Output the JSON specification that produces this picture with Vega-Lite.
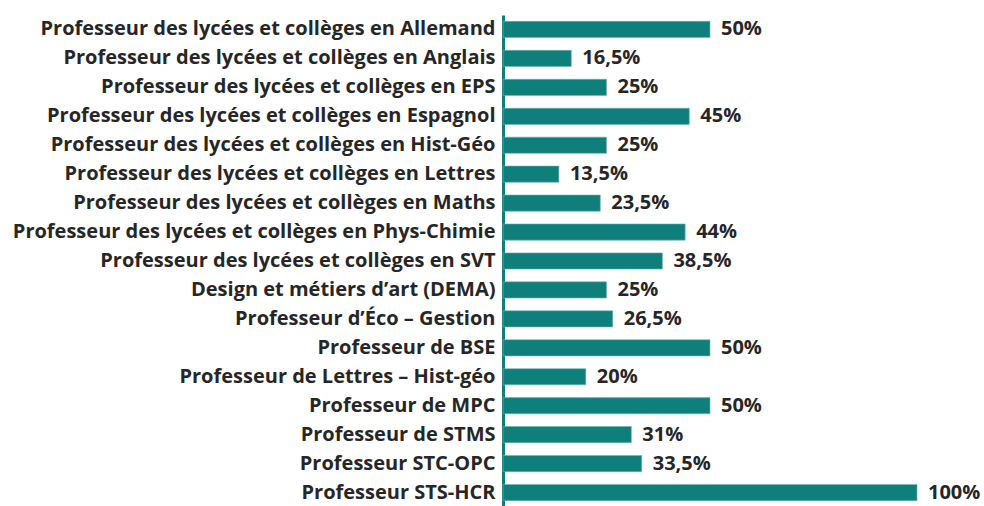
{
  "$schema": "https://vega.github.io/schema/vega-lite/v6.json",
  "autosize": "none",
  "width": 414,
  "height": 492,
  "padding": {"left": 503, "top": 15, "right": 67, "bottom": 0},
  "background": "white",
  "config": {
    "view": {"stroke": null},
    "locale": {"number": {"decimal": ",", "thousands": " ", "grouping": [3], "currency": ["", " €"]}}
  },
  "data": {
    "values": [
      {"cat": "Professeur des lycées et collèges en Allemand", "v": 0.5},
      {"cat": "Professeur des lycées et collèges en Anglais", "v": 0.165},
      {"cat": "Professeur des lycées et collèges en EPS", "v": 0.25},
      {"cat": "Professeur des lycées et collèges en Espagnol", "v": 0.45},
      {"cat": "Professeur des lycées et collèges en Hist-Géo", "v": 0.25},
      {"cat": "Professeur des lycées et collèges en Lettres", "v": 0.135},
      {"cat": "Professeur des lycées et collèges en Maths", "v": 0.235},
      {"cat": "Professeur des lycées et collèges en Phys-Chimie", "v": 0.44},
      {"cat": "Professeur des lycées et collèges en SVT", "v": 0.385},
      {"cat": "Design et métiers d’art (DEMA)", "v": 0.25},
      {"cat": "Professeur d’Éco – Gestion", "v": 0.265},
      {"cat": "Professeur de BSE", "v": 0.5},
      {"cat": "Professeur de Lettres – Hist-géo", "v": 0.2},
      {"cat": "Professeur de MPC", "v": 0.5},
      {"cat": "Professeur de STMS", "v": 0.31},
      {"cat": "Professeur STC-OPC", "v": 0.335},
      {"cat": "Professeur STS-HCR", "v": 1.0}
    ]
  },
  "encoding": {
    "y": {
      "field": "cat", "type": "nominal", "sort": null,
      "scale": {"paddingInner": 0.44, "paddingOuter": 0.22},
      "axis": {
        "title": null, "ticks": false, "domain": true, "domainColor": "#0e7f7a", "domainWidth": 3,
        "labelFont": "Open Sans", "labelFontSize": 20, "labelFontWeight": "bold", "labelColor": "#262626",
        "labelPadding": 8, "labelLimit": 600
      }
    },
    "x": {
      "field": "v", "type": "quantitative",
      "scale": {"domain": [0, 1], "nice": false},
      "axis": null
    }
  },
  "layer": [
    {"mark": {"type": "bar", "color": "#0e7f7a", "stroke": "#6fb5b0", "strokeWidth": 0.6}},
    {
      "mark": {"type": "text", "align": "left", "baseline": "middle", "dx": 11, "dy": 0, "font": "Open Sans", "fontSize": 20, "fontWeight": "bold", "color": "#262626"},
      "encoding": {"text": {"field": "v", "type": "quantitative", "format": ".1~%"}}
    }
  ]
}
